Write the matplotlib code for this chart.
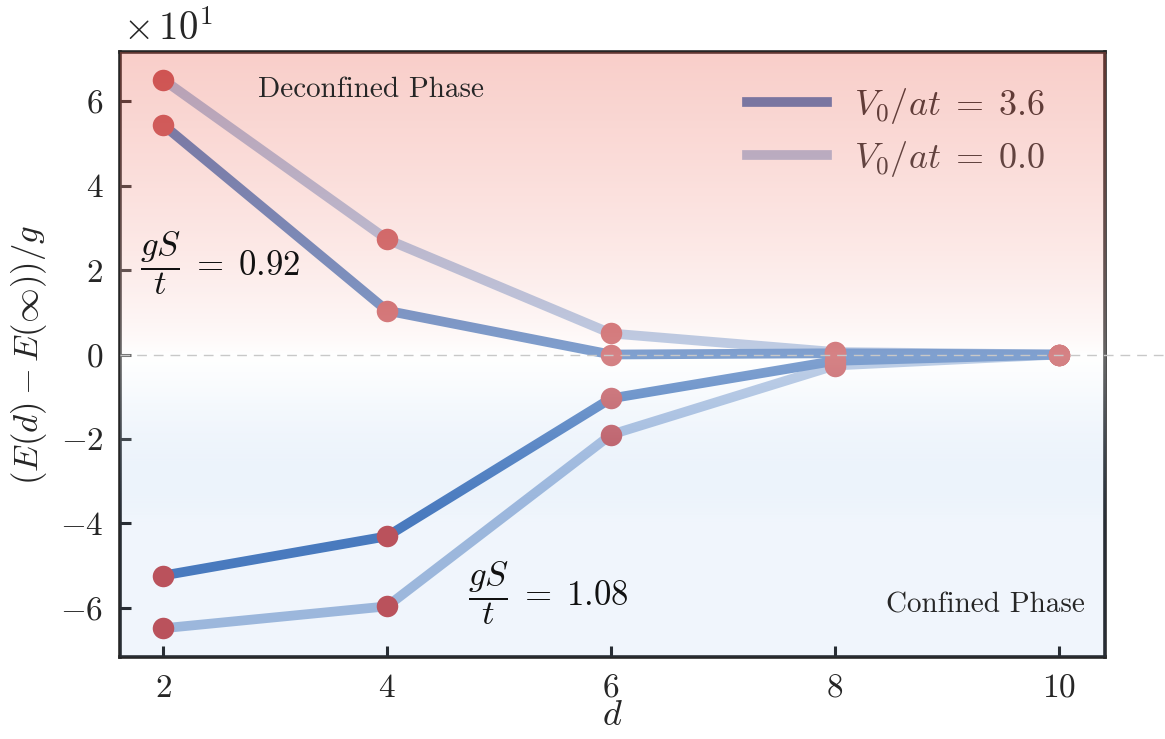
import numpy as np
import matplotlib
matplotlib.use("Agg")
import matplotlib.pyplot as plt
from matplotlib.lines import Line2D

plt.rcParams.update({
    "font.family": "serif",
    "font.serif": ["cmr10"],
    "mathtext.fontset": "cm",
    "axes.formatter.use_mathtext": True,
    "axes.unicode_minus": True,
})

# ---- data (y values in raw units; axis shows x10^1) ----
d = [2, 4, 6, 8, 10]
upper_v36 = [54.5, 10.4, 0.0, 0.3, 0.0]
upper_v00 = [65.2, 27.3, 5.0, 0.6, 0.0]
lower_v36 = [-52.4, -43.1, -10.4, -1.5, 0.0]
lower_v00 = [-64.9, -59.7, -19.0, -2.6, 0.0]
legend_labels = [r"$V_0/at\;=\;3.6$", r"$V_0/at\;=\;0.0$"]
yticks = [-60, -40, -20, 0, 20, 40, 60]
xticks = [2, 4, 6, 8, 10]

blue = "#4a79bc"
red = "#c44e52"
ink = "#262626"

fig = plt.figure(figsize=(11.65, 7.39), dpi=100)
ax = fig.add_axes([0.103, 0.111, 0.8455, 0.8185])
ax.set_facecolor("white")

XL = (1.616, 10.41)
YL = (-71.7, 71.7)

# lines
for ser in (upper_v00, lower_v00):
    ax.plot(d, ser, color=blue, alpha=0.5, lw=7, solid_capstyle="butt", zorder=2)
for ser in (upper_v36, lower_v36):
    ax.plot(d, ser, color=blue, lw=7, solid_capstyle="butt", zorder=2.2)
for ser in (upper_v00, lower_v00, upper_v36, lower_v36):
    ax.plot(d, ser, "o", color=red, ms=15.5, mec="none", zorder=3)

# legend (lies under the colour wash)
handles = [Line2D([], [], color=blue, lw=7),
           Line2D([], [], color=blue, alpha=0.5, lw=7)]
leg = ax.legend(handles, legend_labels, loc="upper right", frameon=False,
                fontsize=26, handlelength=2.2, handletextpad=0.75,
                labelspacing=0.36, bbox_to_anchor=(0.972, 0.998))
for t in leg.get_texts():
    t.set_color(ink)
leg.set_zorder(5)

# colour wash overlay (red above 0, white at 0, faint blue below)
n = 700
ys = np.linspace(YL[0], YL[1], n)
rgba = np.zeros((n, 1, 4))
top = np.array([235, 92, 76]) / 255.0
bot = np.array([70, 140, 220]) / 255.0
white = np.ones(3)
for i, y in enumerate(ys):
    if y >= 0:
        t = (y / 72.0) ** 0.75
        c = white * (1 - t) + top * t
        a = 0.3
    else:
        f = min(-y / 40.0, 1.0) ** 1.3
        c = white * (1 - f) + bot * f
        a = 0.3 - 0.22 * f
    rgba[i, 0, :3] = c
    rgba[i, 0, 3] = a
ax.imshow(rgba, extent=[XL[0], XL[1], YL[0], YL[1]], origin="lower",
          aspect="auto", zorder=6, interpolation="bilinear")

# zero reference line
ax.plot([0, 1.07], [0, 0], transform=ax.get_yaxis_transform(), color="#c8c8c8",
        lw=1.0, ls=(0, (7, 5)), clip_on=False, zorder=7)

ax.set_xlim(*XL)
ax.set_ylim(*YL)
ax.set_xticks(xticks)
ax.set_yticks(yticks)
ax.ticklabel_format(axis="y", style="sci", scilimits=(0, 0), useMathText=True)
ax.yaxis.get_offset_text().set_visible(False)
ax.text(0.003, 1.02, r"$\times\,10^{1}$", transform=ax.transAxes, fontsize=28,
        ha="left", va="baseline", color=ink)

ax.tick_params(direction="in", length=8, width=2.2, labelsize=24, pad=12,
               color=ink, labelcolor=ink)
for s in ax.spines.values():
    s.set_linewidth(2.6)
    s.set_color(ink)

ax.set_xlabel(r"$d$", fontsize=26, labelpad=-2, color=ink)
ax.set_ylabel(r"$(E(d) - E(\infty))/g$", fontsize=25, labelpad=8, color=ink)

# annotations
ax.text(0.14, 0.937, "Deconfined Phase", transform=ax.transAxes, fontsize=21,
        ha="left", va="center", color=ink, zorder=8)
ax.text(0.98, 0.086, "Confined Phase", transform=ax.transAxes, fontsize=21,
        ha="right", va="center", color=ink, zorder=8)
ax.text(0.02, 0.652, r"$\dfrac{gS}{t}\;=\;0.92$", transform=ax.transAxes,
        fontsize=25, ha="left", va="center", color="#111111", zorder=8)
ax.text(0.353, 0.106, r"$\dfrac{gS}{t}\;=\;1.08$", transform=ax.transAxes,
        fontsize=25, ha="left", va="center", color="#111111", zorder=8)

fig.savefig("out.png", dpi=100)
